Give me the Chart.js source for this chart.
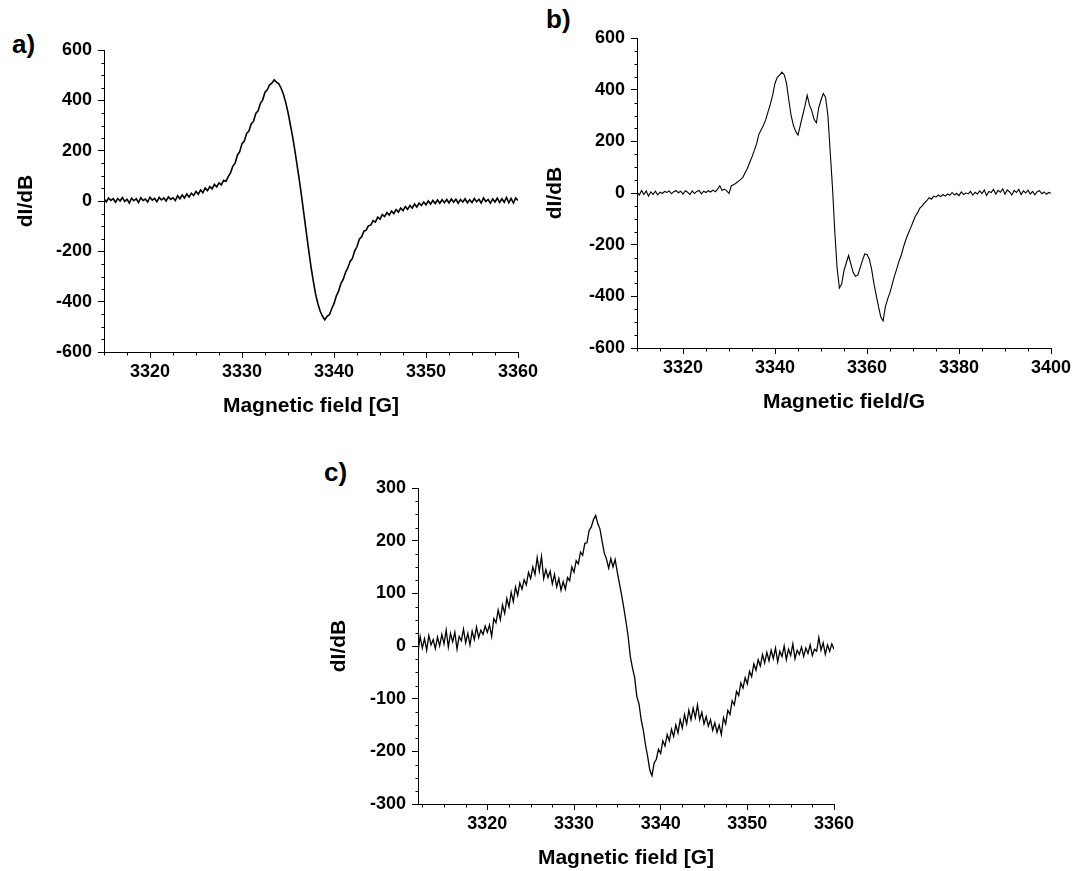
<!DOCTYPE html>
<html><head><meta charset="utf-8">
<script src="https://cdn.jsdelivr.net/npm/chart.js@4.4.1/dist/chart.umd.min.js"></script>
<style>
html,body{margin:0;padding:0;background:#fff;width:1073px;height:871px;overflow:hidden;position:relative;}
canvas{position:absolute;}
.lbl{position:absolute;font:bold 26px 'Liberation Sans',Arial,sans-serif;line-height:26px;color:#000;}
</style></head><body>
<div class="lbl" style="left:12px;top:31px">a)</div>
<div class="lbl" style="left:546px;top:6px">b)</div>
<div class="lbl" style="left:324px;top:459px">c)</div>
<canvas id="ca" width="560" height="440" style="left:0;top:0;width:560px;height:440px"></canvas>
<canvas id="cb" width="560" height="440" style="left:540px;top:0;width:560px;height:440px"></canvas>
<canvas id="cc" width="560" height="431" style="left:300px;top:440px;width:560px;height:431px"></canvas>
<script>
// ---------- Panel a ----------
const fieldStartA = 3315, fieldStepA = 0.25;
const intensityA = [
  8, -3, 12, 2, 9, -5, 10, 0,
  14, -2, 7, -8, 11, 1, 9, -6,
  13, 2, 8, -4, 15, 3, 10, -3,
  14, 4, 12, 0, 16, 6, 13, 2,
  21, 9, 24, 12, 28, 16, 31, 22,
  38, 27, 44, 33, 52, 41, 57, 48,
  66, 56, 72, 64, 82, 78, 97, 112,
  138, 150, 182, 196, 228, 238, 268, 278,
  306, 316, 348, 358, 388, 402, 432, 442,
  462, 468, 482, 472, 466, 448, 424, 392,
  352, 304, 256, 200, 140, 78, 12, -58,
  -128, -196, -262, -318, -370, -408, -438, -458,
  -472, -458, -452, -428, -408, -378, -358, -328,
  -312, -284, -266, -240, -228, -198, -182, -152,
  -142, -120, -116, -98, -96, -78, -84, -64,
  -72, -54, -62, -46, -56, -40, -50, -34,
  -44, -28, -38, -22, -33, -18, -28, -12,
  -24, -8, -18, -4, -15, 0, -12, 2,
  -10, 4, -9, 5, -7, 6, -8, 8,
  -5, 7, -9, 6, -4, 9, -7, 5,
  -6, 10, -3, 7, -8, 12, -2, 6,
  -9, 8, -4, 11, -6, 9, -5, 14,
  -7, 10, -8, 12, 2
];
const xTicksA = [3320, 3330, 3340, 3350, 3360];
const yTicksA = [-600, -400, -200, 0, 200, 400, 600];

// ---------- Panel b ----------
const fieldStartB = 3310, fieldStepB = 0.5;
const intensityB = [
  5, -8, 10, -6, 8, -12, 4, -5, 7, -7,
  3, -2, 6, 2, 8, -3, 5, 9, 1, 7,
  -4, 9, 3, -6, 8, -2, 6, 10, -3, 7,
  2, 9, 4, 11, 5, 14, 28, 10, 15, 8,
  -2, 28, 32, 38, 45, 52, 60, 78, 95, 118,
  140, 165, 190, 228, 245, 262, 285, 315, 345, 380,
  425, 448, 456, 468, 458, 425, 360, 300, 262, 238,
  224, 262, 300, 335, 378, 340, 318, 285, 272, 330,
  360, 385, 370, 300, 160, 20, -150, -290, -368, -352,
  -300, -270, -242, -275, -308, -322, -318, -290, -262, -236,
  -238, -255, -295, -350, -395, -440, -480, -495, -440, -410,
  -385, -352, -320, -292, -262, -238, -205, -178, -155, -135,
  -112, -90, -76, -58, -50, -38, -30, -18, -24, -12,
  -16, -8, -14, -6, -12, -4, -9, 2, -7, -2,
  -10, 4, -6, 0, -3, 6, -8, 3, -4, 8,
  -2, 12, -10, 6, 2, 14, -4, 10, 3, 16,
  -5, 12, 4, -8, 10, 2, 14, -6, 8, 0,
  11, -4, 6, -7, 5, 9, -3, 4, -5, 2,
  -1
];
const xTicksB = [3320, 3340, 3360, 3380, 3400];
const yTicksB = [-600, -400, -200, 0, 200, 400, 600];

// ---------- Panel c ----------
const fieldStartC = 3312, fieldStepC = 0.25;
const intensityC = [
  -12, 18, -4, 14, -8, 20, 2, 12,
  -5, 17, 0, 22, 4, 30, -2, 24,
  8, 26, -6, 18, 10, 32, 6, 24,
  2, 28, 12, 36, 16, 30, 22, 38,
  26, 40, 18, 52, 44, 68, 50, 78,
  62, 90, 74, 102, 84, 112, 96, 120,
  108, 126, 116, 140, 128, 150, 136, 168,
  142, 170, 128, 145, 130, 142, 118, 136,
  112, 128, 106, 122, 108, 130, 124, 150,
  140, 162, 156, 178, 172, 195, 196, 220,
  226, 240, 248, 232, 222, 198, 176, 165,
  148, 166, 150, 164, 140, 118, 96, 72,
  46, 18, -20, -42, -60, -96, -110, -140,
  -160, -188, -210, -236, -246, -222, -215, -196,
  -204, -180, -190, -168, -180, -158, -172, -150,
  -165, -140, -156, -130, -148, -122, -140, -118,
  -136, -112, -140, -126, -148, -134, -152, -140,
  -160, -146, -164, -150, -168, -136, -148, -122,
  -130, -104, -112, -86, -94, -70, -80, -60,
  -72, -48, -58, -34, -46, -26, -38, -16,
  -32, -12, -28, -8, -24, -4, -30, -10,
  -20, 0, -26, -6, -18, 4, -24, -8,
  -16, -2, -20, -4, -14, 2, -18, -6,
  -10, 16, -8, 6, -16, 2, -10, 4,
  -6
];
const xTicksC = [3320, 3330, 3340, 3350, 3360];
const yTicksC = [-300, -200, -100, 0, 100, 200, 300];

const xTitleA = 'Magnetic field [G]';
const xTitleB = 'Magnetic field/G';
const xTitleC = 'Magnetic field [G]';
const yTitle = 'dI/dB';

// ---------- rendering ----------
const FONT = "'Liberation Sans', Arial, Helvetica, sans-serif";
Chart.defaults.font.family = FONT;
Chart.defaults.font.weight = 'bold';
Chart.defaults.color = '#000';

function buildPoints(start, step, values) {
  return values.map((v, i) => ({ x: start + i * step, y: v }));
}

function minorTicksPlugin(xStep, yStep, len) {
  return {
    id: 'minorTicks',
    afterDraw(chart) {
      const ctx = chart.ctx, xs = chart.scales.x, ys = chart.scales.y;
      const xMajor = xs.ticks.map(t => t.value), yMajor = ys.ticks.map(t => t.value);
      ctx.save();
      ctx.strokeStyle = '#000';
      ctx.lineWidth = 1;
      ctx.beginPath();
      const yb = Math.round(ys.bottom) + 0.5;
      for (let v = Math.ceil(xs.min / xStep - 1e-9) * xStep; v <= xs.max + 1e-9; v += xStep) {
        if (xMajor.some(m => Math.abs(m - v) < 1e-6)) continue;
        const px = Math.round(xs.getPixelForValue(v)) + 0.5;
        ctx.moveTo(px, yb); ctx.lineTo(px, yb + len);
      }
      const xl = Math.round(xs.left) + 0.5;
      for (let v = Math.ceil(ys.min / yStep - 1e-9) * yStep; v <= ys.max + 1e-9; v += yStep) {
        if (yMajor.some(m => Math.abs(m - v) < 1e-6)) continue;
        const py = Math.round(ys.getPixelForValue(v)) + 0.5;
        ctx.moveTo(xl, py); ctx.lineTo(xl - len, py);
      }
      ctx.stroke();
      ctx.restore();
    }
  };
}

function makeChart(id, o) {
  const tickFont = { family: FONT, weight: 'bold', size: 18 };
  const titleFont = { family: FONT, weight: 'bold', size: 21 };
  const axisCommon = {
    type: 'linear',
    grid: { display: true, drawOnChartArea: false, drawTicks: true, tickLength: 6, color: '#000', lineWidth: 1 },
    border: { display: true, color: '#000', width: 1 }
  };
  return new Chart(document.getElementById(id), {
    type: 'line',
    data: {
      datasets: [{
        data: buildPoints(o.start, o.step, o.values),
        borderColor: '#000', borderWidth: o.lineW, pointRadius: 0, tension: 0, fill: false
      }]
    },
    options: {
      responsive: false, animation: false, events: [],
      layout: { padding: { left: 0, top: o.top, right: o.right, bottom: 0 } },
      plugins: { legend: { display: false }, tooltip: { enabled: false } },
      scales: {
        x: Object.assign({}, axisCommon, {
          position: 'bottom', min: o.xMin, max: o.xMax,
          afterBuildTicks: s => { s.ticks = o.xTicks.map(v => ({ value: v })); },
          afterFit: s => { s.height = o.xAxisH; },
          ticks: { font: tickFont, color: '#000', padding: 3, maxRotation: 0, autoSkip: false, callback: v => String(v) },
          title: { display: true, text: o.xTitle, font: titleFont, color: '#000', padding: { top: 0, bottom: o.xTitlePad } }
        }),
        y: Object.assign({}, axisCommon, {
          position: 'left', min: o.yMin, max: o.yMax,
          afterBuildTicks: s => { s.ticks = o.yTicks.map(v => ({ value: v })); },
          afterFit: s => { s.width = o.yAxisW; },
          ticks: { font: tickFont, color: '#000', padding: 6, autoSkip: false, callback: v => String(v) },
          title: { display: true, text: yTitle, font: titleFont, color: '#000', padding: { top: o.yTitlePad, bottom: 0 } }
        })
      }
    },
    plugins: [minorTicksPlugin(o.xMinor, o.yMinor, 3)]
  });
}

makeChart('ca', {
  start: fieldStartA, step: fieldStepA, values: intensityA, lineW: 1.6,
  xMin: 3315, xMax: 3360, yMin: -600, yMax: 600, xTicks: xTicksA, yTicks: yTicksA,
  xMinor: 2.5, yMinor: 50, xTitle: xTitleA,
  top: 50, right: 42, yAxisW: 104, xAxisH: 88, xTitlePad: 21, yTitlePad: 14
});
makeChart('cb', {
  start: fieldStartB, step: fieldStepB, values: intensityB, lineW: 1.1,
  xMin: 3310, xMax: 3400, yMin: -600, yMax: 600, xTicks: xTicksB, yTicks: yTicksB,
  xMinor: 5, yMinor: 50, xTitle: xTitleB,
  top: 38, right: 49, yAxisW: 97, xAxisH: 92, xTitlePad: 25, yTitlePad: 3
});
makeChart('cc', {
  start: fieldStartC, step: fieldStepC, values: intensityC, lineW: 1.3,
  xMin: 3312, xMax: 3360, yMin: -300, yMax: 300, xTicks: xTicksC, yTicks: yTicksC,
  xMinor: 2.5, yMinor: 25, xTitle: xTitleC,
  top: 48, right: 26, yAxisW: 118, xAxisH: 67, xTitlePad: 0, yTitlePad: 27
});
</script>
</body></html>
